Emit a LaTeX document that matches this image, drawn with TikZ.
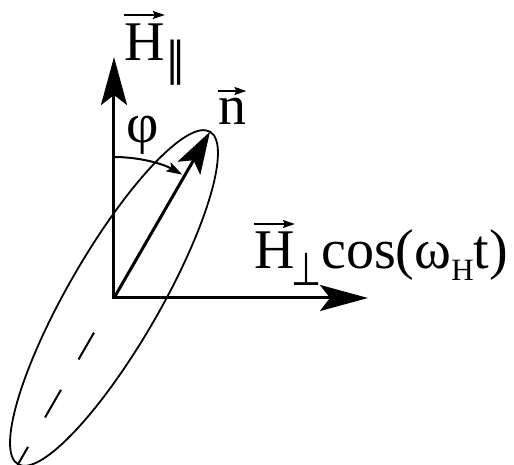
\documentclass[tikz,border=0pt]{standalone}
\usepackage{graphicx}
\usepackage{fontspec}
\setmainfont{Liberation Serif}
\newfontfamily\symfont{DejaVu Sans}
\usetikzlibrary{arrows.meta}
\begin{document}
\begin{tikzpicture}[x=1pt,y=1pt,
  lab/.style={inner sep=0pt, font=\fontsize{56}{62}\selectfont},
  symlab/.style={inner sep=0pt, anchor=base west},
  axisline/.style={line width=3pt, line join=miter,
    {Stealth[length=48pt,width=26pt,inset=10pt]}-{Stealth[length=48pt,width=26pt,inset=10pt]}},
  nvec/.style={line width=3pt, -{Stealth[length=42pt,width=26pt,inset=9pt]}},
  arcarr/.style={line width=2pt, -{Stealth[length=16pt,width=10pt,inset=3pt]}},
  vecarr/.style={line width=1.6pt, -{Stealth[length=12pt,width=8pt,inset=2pt]}}
]
\useasboundingbox (-114,-167) rectangle (400,298);
\coordinate (O) at (0,0);
\coordinate (Ytip) at (0,241);
\coordinate (Xtip) at (254,0);
\coordinate (N) at (60:192);
\coordinate (B) at (240:192);
\coordinate (A0) at (90:141);
% ellipse
\draw[line width=1.8pt, rotate=60] (0,0) ellipse [x radius=192, y radius=46];
% dashed lower half of axis
\draw[line width=2pt, dash pattern=on 20pt off 34pt on 32pt off 35pt on 31pt off 45pt] (B) -- (O);
% axes
\draw[axisline] (Ytip) -- (O) -- (Xtip);
% n vector
\draw[nvec] (O) -- (N);
% phi arc
\draw[arcarr] (A0) arc[start angle=90, end angle=61, radius=141];
% labels
\node[lab, anchor=base west] (Hp) at (10,237) {H};
\node[symlab] (Hpsub) at ([xshift=0pt,yshift=-15pt]Hp.base east)
  {\symfont\fontsize{46}{46}\selectfont\scalebox{0.9}[1]{∥}};
\draw[vecarr] ([yshift=46pt]Hp.base west) -- ([yshift=46pt]Hp.base east);
\node[lab, anchor=base west] (nn) at (104,173) {n};
\draw[vecarr] ([yshift=34pt]nn.base west) -- ([yshift=34pt]nn.base east);
\node[lab] (phi) at (29,163) {φ};
\node[lab, anchor=base west] (Hq) at (140,29) {H};
\node[symlab] (perp) at ([xshift=-4pt,yshift=-17pt]Hq.base east)
  {\symfont\fontsize{46}{46}\selectfont\scalebox{0.75}[1]{⊥}};
\draw[vecarr] ([yshift=45pt]Hq.base west) -- ([yshift=45pt]Hq.base east);
\node[lab, anchor=base west] (cosl) at (207,29) {cos(ω\raisebox{-12pt}{\fontsize{31}{31}\selectfont H}t)};
\end{tikzpicture}
\end{document}
